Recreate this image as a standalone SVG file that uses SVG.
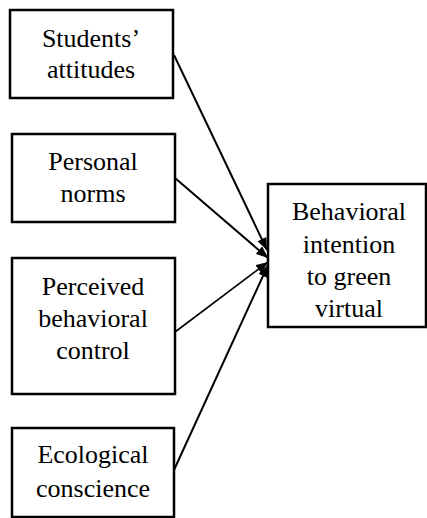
<svg xmlns="http://www.w3.org/2000/svg" width="427" height="518" viewBox="0 0 427 518">
<style>
.box{fill:#fff;stroke:#000;stroke-width:2.5}
.t{font-family:"Liberation Serif","Times New Roman",serif;font-size:26px;fill:#000;text-anchor:middle}
.c{stroke:#000;stroke-width:2;fill:none;marker-end:url(#ah)}
</style>
<defs>
<marker id="ah" markerUnits="userSpaceOnUse" markerWidth="12" markerHeight="10" refX="12" refY="5" orient="auto">
<path d="M0,0 L12,5 L0,10 Z" fill="#000"/>
</marker>
</defs>
<g id="connectors">
<line class="c" x1="174" y1="55" x2="267" y2="250"/>
<line class="c" x1="175" y1="178" x2="268" y2="258"/>
<line class="c" x1="175" y1="332" x2="268" y2="262" style="stroke-width:1.6"/>
<line class="c" x1="174" y1="470" x2="268" y2="265"/>
</g>
<g id="n1">
<rect class="box" x="10" y="10" width="163" height="88"/>
<text class="t" x="91" y="47">Students’</text>
<text class="t" x="91" y="78">attitudes</text>
</g>
<g id="n2">
<rect class="box" x="12" y="134" width="163" height="88"/>
<text class="t" x="93" y="170">Personal</text>
<text class="t" x="93" y="202">norms</text>
</g>
<g id="n3">
<rect class="box" x="12" y="258" width="163" height="136"/>
<text class="t" x="93" y="295">Perceived</text>
<text class="t" x="93" y="327">behavioral</text>
<text class="t" x="93" y="359">control</text>
</g>
<g id="n4">
<rect class="box" x="12" y="428" width="162" height="89"/>
<text class="t" x="93" y="463">Ecological</text>
<text class="t" x="93" y="497">conscience</text>
</g>
<g id="n5">
<rect class="box" x="268" y="184" width="158" height="143"/>
<text class="t" x="349" y="220">Behavioral</text>
<text class="t" x="349" y="253">intention</text>
<text class="t" x="349" y="285">to green</text>
<text class="t" x="349" y="317">virtual</text>
</g>
</svg>
